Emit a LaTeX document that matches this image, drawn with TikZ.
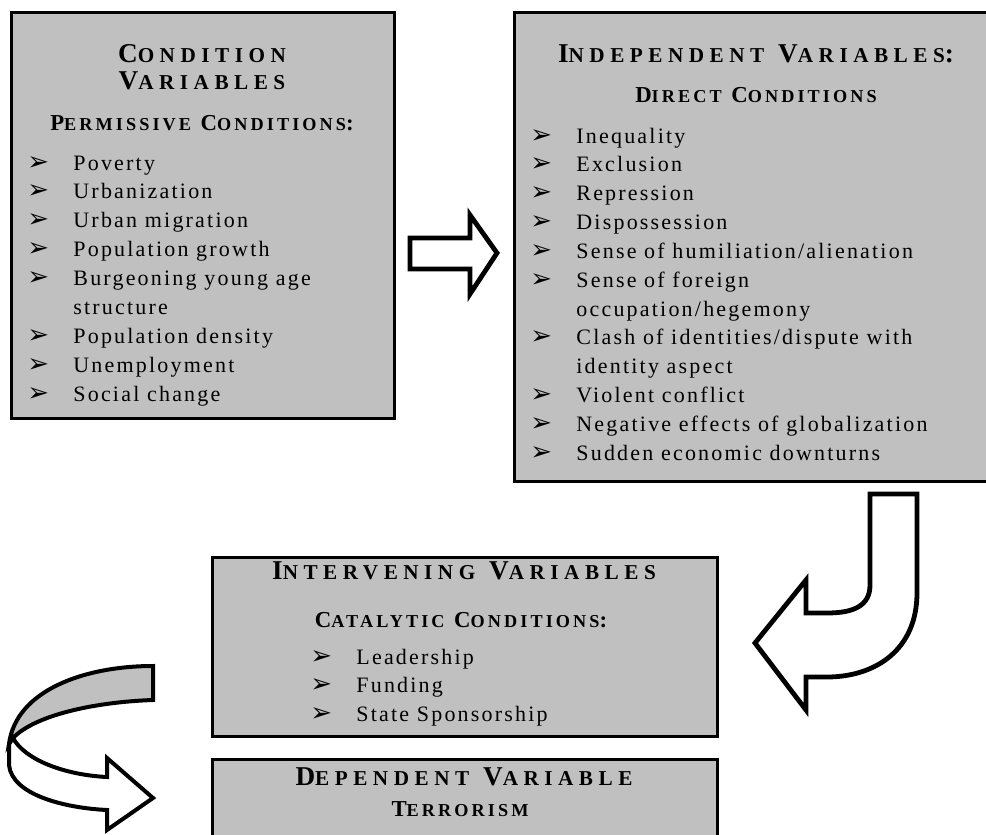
\documentclass[tikz,border=0pt]{standalone}
\usepackage{fontspec}
\setmainfont{Liberation Serif}
\newfontfamily\symfont{DejaVu Sans}
\usetikzlibrary{positioning}
\definecolor{PanelGray}{HTML}{C0C0C0}
\newcommand{\bul}{\makebox[23pt][l]{\symfont\fontsize{13}{13}\selectfont ➢}}
\newcommand{\cont}{\hspace*{23pt}}
\newcommand{\hsc}[1]{{\fontsize{10.6}{11}\selectfont #1}}
\newcommand{\ssc}[1]{{\fontsize{9.1}{10}\selectfont #1}}

\begin{document}
\begin{tikzpicture}[
            x=0.5pt, y=-0.5pt,
            panel/.style = {draw=black, fill=PanelGray, line width=1.5pt, anchor=north west, inner sep=0pt},
            headline/.style = {font=\fontsize{13.6}{14}\selectfont\bfseries\addfontfeature{LetterSpace=26}, anchor=base, inner sep=0pt},
            subline/.style = {font=\fontsize{11.4}{12}\selectfont\bfseries\addfontfeature{LetterSpace=17}, anchor=base, inner sep=0pt},
            itemline/.style = {font=\fontsize{11}{12}\selectfont\addfontfeature{LetterSpace=10}, anchor=base west, inner sep=0pt},
            blockarrow/.style = {draw=black, line width=2.4pt, fill=white, line join=miter}
        ]
            \useasboundingbox (0,0) rectangle (986,835);
            \node [panel, minimum width=191.5pt, minimum height=203pt] (cond) at (10,11) {};
            \node [panel, minimum width=245pt, minimum height=234.5pt] (indep) at (513,11) {};
            \node [panel, minimum width=252.5pt, minimum height=89.5pt] (interv) at (211,556) {};
            \node [panel, minimum width=252.5pt, minimum height=50pt] (dep) at (211,758) {};

            \node [headline] (condA) at (202,62) {C\hsc{ONDITION}};
            \node [headline] (condB) at (202,90) {V\hsc{ARIABLES}};
            \node [subline] (condS) at (202,130) {P\ssc{ERMISSIVE} C\ssc{ONDITIONS}:};
            \foreach \txt [count=\i from 0] in {\bul Poverty, \bul Urbanization, \bul Urban migration, \bul Population growth, \bul Burgeoning young age, \cont structure, \bul Population density, \bul Unemployment, \bul Social change}
                \node [itemline] (cond\i) at (27,170+28.9*\i) {\txt};

            \node [headline] (indepA) at (756,62) {I\hsc{NDEPENDENT} V\hsc{ARIABLES}:};
            \node [subline] (indepS) at (756,102) {D\ssc{IRECT} C\ssc{ONDITIONS}};
            \foreach \txt [count=\i from 0] in {\bul Inequality, \bul Exclusion, \bul Repression, \bul Dispossession, \bul Sense of humiliation/alienation, \bul Sense of foreign, \cont occupation/hegemony, \bul Clash of identities/dispute with, \cont identity aspect, \bul Violent conflict, \bul Negative effects of globalization, \bul Sudden economic downturns}
                \node [itemline] (indep\i) at (530,143+28.85*\i) {\txt};

            \node [headline] (intervA) at (464,579) {I\hsc{NTERVENING} V\hsc{ARIABLES}};
            \node [subline] (intervS) at (461,627) {C\ssc{ATALYTIC} C\ssc{ONDITIONS}:};
            \foreach \txt [count=\i from 0] in {\bul Leadership, \bul Funding, \bul State Sponsorship}
                \node [itemline] (interv\i) at (310,664+28.7*\i) {\txt};

            \node [headline] (depA) at (464,785) {D\hsc{EPENDENT} V\hsc{ARIABLE}};
            \node [subline] (depS) at (460,816) {T\ssc{ERRORISM}};

            \draw [blockarrow] (410,238) -- (470,238) -- (470,215) -- (497,253) -- (470,294) -- (470,269) -- (410,269) -- cycle;
            \draw [blockarrow] (870,494) -- (917,494) -- (917,593) .. controls (917,650) and (875,677) .. (827,677) -- (806,677) -- (806,710) -- (755,643) -- (806,580) -- (806,613) -- (827,613) .. controls (855,613) and (870,605) .. (870,585) -- cycle;
            \draw [blockarrow, line width=2pt] (9,744) -- (9,765) .. controls (12,795) and (65,808) .. (107,810) -- (107,830) -- (153,798) -- (107,758) -- (107,777) .. controls (65,775) and (25,760) .. (13,738) -- cycle;
            \draw [blockarrow, line width=2pt, fill=PanelGray] (153,666) -- (153,700) .. controls (95,702) and (35,715) .. (13,738) -- (9,744) .. controls (16,690) and (85,666) .. cycle;
        \end{tikzpicture}
\end{document}
